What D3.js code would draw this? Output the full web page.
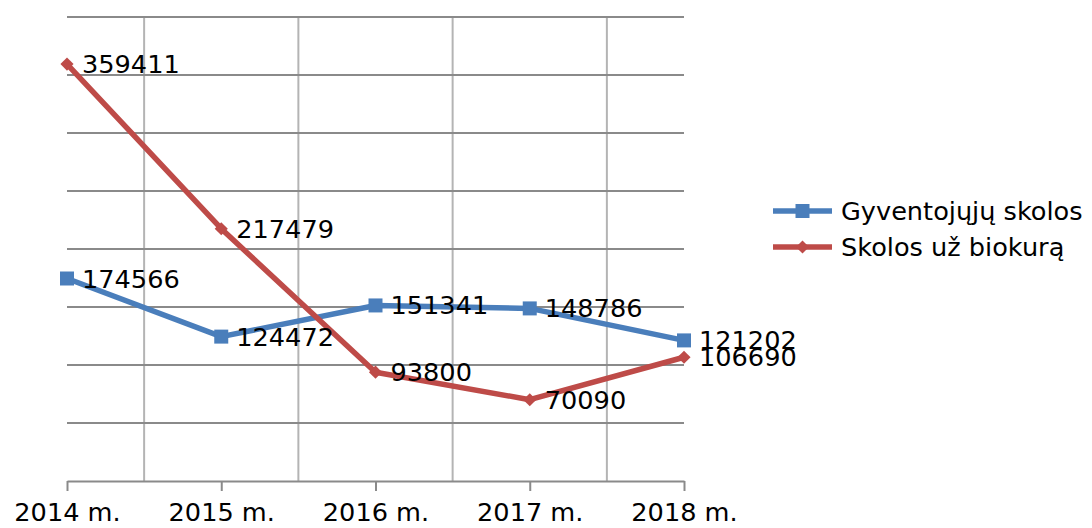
<!DOCTYPE html>
<html>
<head>
<meta charset="utf-8">
<script src="https://cdn.jsdelivr.net/npm/d3@7"></script>
<style>
  body { margin: 0; background: #fff; }
  svg text { font-family: "DejaVu Sans", sans-serif; }
</style>
</head>
<body>
<svg id="chart" width="1092" height="528"></svg>
<script>
var years = ["2014 m.", "2015 m.", "2016 m.", "2017 m.", "2018 m."];
var gyventojuSkolos = [174566, 124472, 151341, 148786, 121202];
var biokuroSkolos = [359411, 217479, 93800, 70090, 106690];
var seriesNames = ["Gyventojųjų skolos", "Skolos už biokurą"];
var yTicks = [0, 50000, 100000, 150000, 200000, 250000, 300000, 350000, 400000];

var svg = d3.select("#chart");
var fontSize = 25.6;

var x = d3.scalePoint().domain(years).range([67, 684]);
var y = d3.scaleLinear().domain([0, 400000]).range([481, 17]);
var step = x.step();

var series = [
  { name: seriesNames[0], values: gyventojuSkolos, color: "#4a7ebb", marker: "square" },
  { name: seriesNames[1], values: biokuroSkolos, color: "#be4b48", marker: "diamond" }
];

// vertical gridlines between categories
svg.append("g").selectAll("line")
  .data(years.slice(0, -1))
  .enter().append("line")
  .attr("x1", function(d) { return x(d) + step / 2; })
  .attr("x2", function(d) { return x(d) + step / 2; })
  .attr("y1", y(400000))
  .attr("y2", y(0))
  .attr("stroke", "#b4b4b4")
  .attr("stroke-width", 2);

// horizontal gridlines
svg.append("g").selectAll("line")
  .data(yTicks.slice(1))
  .enter().append("line")
  .attr("x1", x.range()[0])
  .attr("x2", x.range()[1])
  .attr("y1", function(d) { return y(d); })
  .attr("y2", function(d) { return y(d); })
  .attr("stroke", "#8a8a8a")
  .attr("stroke-width", 2);

// x axis
var xAxis = svg.append("g")
  .attr("transform", "translate(0," + y(0) + ")")
  .call(d3.axisBottom(x).tickSize(10).tickPadding(12).tickSizeOuter(0));
xAxis.select(".domain").attr("stroke", "#8a8a8a").attr("stroke-width", 2);
xAxis.selectAll(".tick line").attr("stroke", "#8a8a8a").attr("stroke-width", 2);
xAxis.selectAll(".tick text")
  .attr("font-size", fontSize)
  .attr("font-family", "DejaVu Sans, sans-serif")
  .attr("fill", "#000");

var line = d3.line()
  .x(function(d, i) { return x(years[i]); })
  .y(function(d) { return y(d); });

var sq = d3.symbol().type(d3.symbolSquare).size(196);
var dia = d3.symbol().type(d3.symbolDiamond2).size(110);

series.forEach(function(s) {
  svg.append("path")
    .datum(s.values)
    .attr("d", line)
    .attr("fill", "none")
    .attr("stroke", s.color)
    .attr("stroke-width", 5.5)
    .attr("stroke-linejoin", "round");

  svg.append("g").selectAll("path")
    .data(s.values)
    .enter().append("path")
    .attr("d", s.marker == "square" ? sq : dia)
    .attr("transform", function(d, i) { return "translate(" + x(years[i]) + "," + y(d) + ")"; })
    .attr("fill", s.color);
});

// data labels
series.forEach(function(s) {
  svg.append("g").selectAll("text")
    .data(s.values)
    .enter().append("text")
    .attr("x", function(d, i) { return x(years[i]) + 15; })
    .attr("y", function(d) { return y(d) + 9; })
    .attr("font-size", fontSize)
    .attr("fill", "#000")
    .text(function(d) { return d; });
});

// legend
var legend = svg.append("g").attr("transform", "translate(773,211)");
series.forEach(function(s, i) {
  var row = legend.append("g").attr("transform", "translate(0," + (i * 36) + ")");
  row.append("line")
    .attr("x1", 0).attr("x2", 59)
    .attr("stroke", s.color).attr("stroke-width", 5.5);
  row.append("path")
    .attr("d", s.marker == "square" ? sq : dia)
    .attr("transform", "translate(29.5,0)")
    .attr("fill", s.color);
  row.append("text")
    .attr("x", 68).attr("y", 9)
    .attr("font-size", fontSize)
    .attr("fill", "#000")
    .text(s.name);
});
</script>
</body>
</html>
